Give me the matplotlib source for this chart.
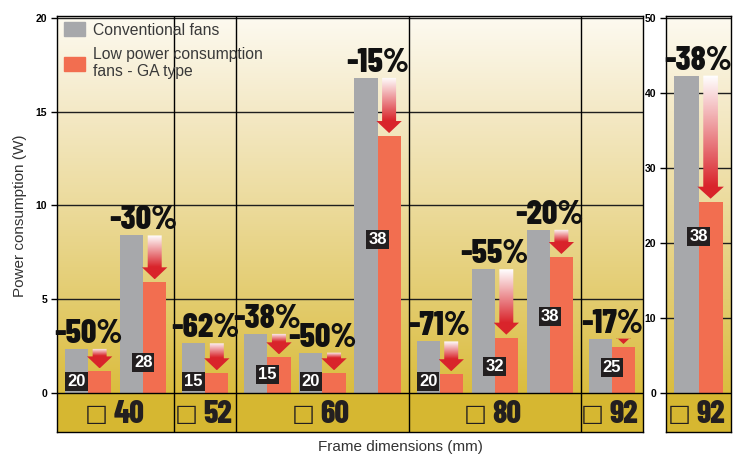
import numpy as np
import matplotlib
matplotlib.use('Agg')
import matplotlib.pyplot as plt
from matplotlib.patches import Patch, Polygon
from matplotlib.colors import LinearSegmentedColormap
from matplotlib.transforms import offset_copy

# frame sizes, how many fans per frame, and fan thickness (mm)
frames = ['40', '52', '60', '80', '92']
pairs_per_frame = [2, 1, 3, 3, 1]
thickness = [20, 28, 15, 15, 20, 38, 20, 32, 38, 25]
conventional = [2.35, 8.4, 2.65, 3.15, 2.15, 16.8, 2.75, 6.6, 8.7, 2.9]
ga_type = [1.15, 5.9, 1.05, 1.9, 1.05, 13.7, 1.0, 2.95, 7.25, 2.45]
reduction = ['-50%', '-30%', '-62%', '-38%', '-50%', '-15%', '-71%', '-55%', '-20%', '-17%']
# where the thickness tag sits (None -> bottom of grey bar)
tag_y = [None, 1.6, None, 1.0, None, 8.2, None, 1.4, 4.1, 1.35]

# the big 92 fan, own scale
big_frames = ['92']
big_pairs = [1]
big_thickness = [38]
big_conventional = [42.3]
big_ga = [25.5]
big_reduction = ['-38%']
big_tag_y = [20.9]

GREY = '#a7a8ab'
ORANGE = '#f26e50'
RED = '#d9242b'
BAND = '#d6b731'
NARROW = ['Barlow Condensed', 'DejaVu Sans']
plt.rcParams['font.family'] = ['Liberation Sans', 'DejaVu Sans']

bg_cmap = LinearSegmentedColormap.from_list('bg', [(0, '#dbbd3e'), (0.25, '#e3cc6f'), (0.5, '#ecdb9c'),
                                                   (0.75, '#f4e9c6'), (1, '#fdfaf0')])
arrow_cmap = LinearSegmentedColormap.from_list('arr', ['#ffffff', RED])

PAD = 0.064   # space at each side of a frame group (in pair slots)
W = 0.42      # bar width


def layout(counts):
    centers, edges = [], [0.0]
    x = 0.0
    for n in counts:
        for k in range(n):
            centers.append(x + PAD + k + 0.5)
        x += n + 2 * PAD
        edges.append(x)
    return np.array(centers), edges


def draw_panel(ax, counts, names, conv, ga, tags, tys, reds, k, ymax, yticks):
    centers, edges = layout(counts)
    ybot = -2.08 * k
    ax.imshow(np.linspace(0, 1, 256).reshape(-1, 1), extent=[0, edges[-1], 0, ymax], origin='lower',
              aspect='auto', cmap=bg_cmap, zorder=0)
    ax.axhspan(ybot, 0, color=BAND, zorder=0)
    for g in yticks[1:]:
        ax.axhline(g, color='#1e1e1e', lw=1, zorder=1)
    ax.axhline(0, color='black', lw=1, zorder=3)
    for e in edges[1:-1]:
        ax.axvline(e, color='black', lw=1, zorder=3)

    ax.bar(centers - W / 2, conv, W, color=GREY, zorder=2)
    ax.bar(centers + W / 2, ga, W, color=ORANGE, zorder=2)

    for i, c in enumerate(centers):
        # gradient arrow from the grey top down to the orange top
        xa = c + W / 2
        top = conv[i]
        tip = ga[i] + 0.16 * k
        base = tip + 0.64 * k
        sw, hw = 0.127, 0.23
        poly = Polygon([(xa - sw, top), (xa + sw, top), (xa + sw, base), (xa + hw, base), (xa, tip),
                        (xa - hw, base), (xa - sw, base)], closed=True, fc='none', ec='none',
                       transform=ax.transData)
        ax.add_patch(poly)
        yy = np.linspace(top, tip, 200)
        t = np.clip((top - yy) / max(top - base, 1e-6), 0, 1).reshape(-1, 1)
        im = ax.imshow(t, extent=[xa - hw, xa + hw, tip, top], origin='upper', aspect='auto',
                       cmap=arrow_cmap, vmin=0, vmax=1, zorder=4)
        im.set_clip_path(poly)

        ax.text(c, conv[i] + 0.32 * k, reds[i], ha='center', va='baseline', fontsize=24.5,
                fontweight=800, family=NARROW, color='#111111', zorder=5)

        if tys[i] is None:
            tx, ty = c - W / 2, 0.62 * k
        else:
            tx, ty = c, tys[i]
        ax.text(tx, ty, str(tags[i]), ha='center', va='center', color='white', fontsize=12,
                fontweight='bold', zorder=6,
                bbox=dict(boxstyle='square,pad=0.12', fc='#231f20', ec='none'))

    # frame size labels in the band: outline square + number
    for j, name in enumerate(names):
        xm = (edges[j] + edges[j + 1]) / 2
        ax.text(xm, -1.47 * k, '\u25a1', ha='right', va='baseline', fontsize=17.5, family='DejaVu Sans',
                color='#231f20', zorder=5,
                transform=offset_copy(ax.transData, fig=ax.figure, x=-8, y=0, units='dots'))
        ax.text(xm, -1.6 * k, name, ha='left', va='baseline', fontsize=23, fontweight=800,
                family=NARROW, color='#231f20', zorder=5,
                transform=offset_copy(ax.transData, fig=ax.figure, x=-2, y=0, units='dots'))

    ax.set_xlim(0, edges[-1])
    ax.set_ylim(ybot, 20.1 * k)
    ax.set_xticks([])
    ax.set_yticks(yticks)
    ax.tick_params(axis='y', length=4, width=1, pad=3, labelsize=7.5)
    for lab in ax.get_yticklabels():
        lab.set_fontweight('bold')
    for s in ax.spines.values():
        s.set_linewidth(1)
        s.set_color('black')


fig = plt.figure(figsize=(7.39, 4.55), dpi=100)
ax = fig.add_axes([57 / 739, 1 - 432 / 455, 586 / 739, 416 / 455])
ax2 = fig.add_axes([666 / 739, 1 - 432 / 455, 65 / 739, 416 / 455])

draw_panel(ax, pairs_per_frame, frames, conventional, ga_type, thickness, tag_y, reduction, 1, 20,
           [0, 5, 10, 15, 20])
draw_panel(ax2, big_pairs, big_frames, big_conventional, big_ga, big_thickness, big_tag_y, big_reduction,
           2.5, 50, [0, 10, 20, 30, 40, 50])

ax.set_xlabel('Frame dimensions (mm)', fontsize=11, color='#333333')
ax.xaxis.set_label_coords((400 - 57) / 586, -0.02)
ax.set_ylabel('Power consumption (W)', fontsize=11, color='#333333')
ax.yaxis.set_label_coords(-0.052, 0.52)

handles = [Patch(color=GREY), Patch(color=ORANGE)]
ax.legend(handles, ['Conventional fans', 'Low power consumption\nfans - GA type'], loc='upper left',
          bbox_to_anchor=(0.012, 0.985), frameon=False, fontsize=11.3, handlelength=1.35, handleheight=1.0,
          handletextpad=0.5, labelspacing=0.6, borderpad=0, borderaxespad=0, labelcolor='#3a3a3a')

fig.savefig('out.png', dpi=100)
